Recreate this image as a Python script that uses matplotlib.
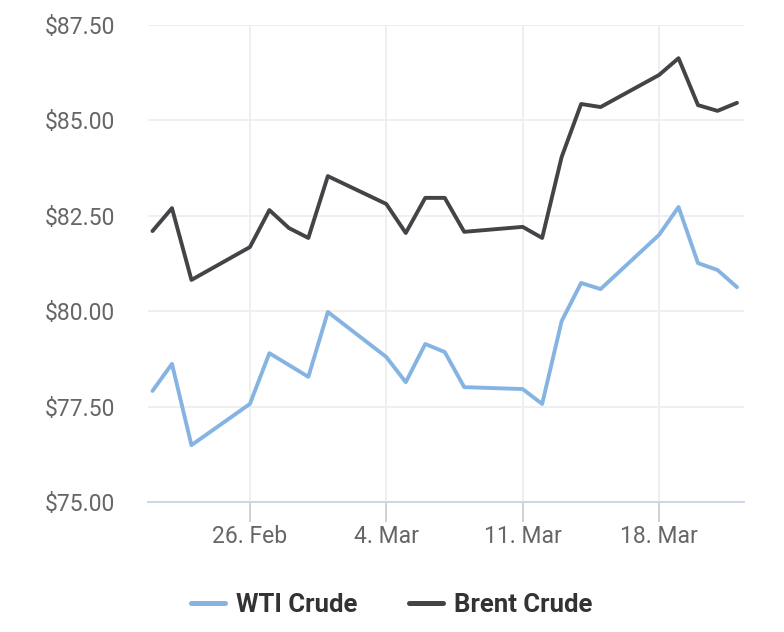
import matplotlib
matplotlib.use("Agg")
import matplotlib.pyplot as plt
import matplotlib.dates as mdates
import pandas as pd

dates = ["2024-02-21", "2024-02-22", "2024-02-23", "2024-02-26", "2024-02-27",
         "2024-02-28", "2024-02-29", "2024-03-01", "2024-03-04", "2024-03-05",
         "2024-03-06", "2024-03-07", "2024-03-08", "2024-03-11", "2024-03-12",
         "2024-03-13", "2024-03-14", "2024-03-15", "2024-03-18", "2024-03-19",
         "2024-03-20", "2024-03-21", "2024-03-22"]
wti = [77.91, 78.62, 76.49, 77.57, 78.90, 78.59, 78.28, 79.98, 78.80, 78.14,
       79.14, 78.93, 78.01, 77.96, 77.57, 79.74, 80.74, 80.58, 82.00, 82.73,
       81.26, 81.08, 80.63]
brent = [82.10, 82.70, 80.82, 81.68, 82.65, 82.18, 81.92, 83.54, 82.81, 82.05,
         82.97, 82.97, 82.08, 82.21, 81.92, 84.04, 85.43, 85.35, 86.19, 86.63,
         85.40, 85.25, 85.46]
xticks = ["2024-02-26", "2024-03-04", "2024-03-11", "2024-03-18"]
xticklabels = ["26. Feb", "4. Mar", "11. Mar", "18. Mar"]
yticks = [75.0, 77.5, 80.0, 82.5, 85.0, 87.5]

plt.rcParams['font.family'] = ['Roboto', 'DejaVu Sans']

x = pd.to_datetime(dates)
fig = plt.figure(figsize=(7.84, 6.32), dpi=100)
ax = fig.add_axes([148 / 784, 1 - 502 / 632, 596 / 784, 477 / 632])

ax.plot(x, wti, color='#85b4e3', lw=2.8, label='WTI Crude', solid_joinstyle='round', solid_capstyle='round')
ax.plot(x, brent, color='#434348', lw=2.8, label='Brent Crude', solid_joinstyle='round', solid_capstyle='round')

x0 = mdates.date2num(pd.Timestamp("2024-02-26"))
ax.set_xlim(x0 - 5.23, x0 + 21 + 4.36)
ax.set_ylim(75, 87.5)

ax.set_xticks(pd.to_datetime(xticks))
ax.set_xticklabels(xticklabels)
ax.set_yticks(yticks)
ax.set_yticklabels([f"${v:.2f}" for v in yticks])

ax.grid(True, color='#eeeeee', lw=1.3)
ax.set_axisbelow(True)
for s in ['top', 'right', 'left']:
    ax.spines[s].set_visible(False)
ax.spines['bottom'].set_color('#ccd6eb')
ax.spines['bottom'].set_linewidth(1.4)
ax.tick_params(axis='x', length=14.5, width=1.2, color='#c8c8c8', pad=2,
               labelsize=16.5, labelcolor='#666666')
ax.tick_params(axis='y', length=0, pad=24, labelsize=16.5, labelcolor='#666666')

leg = fig.legend(loc='center', bbox_to_anchor=(392 / 784, 1 - 605 / 632), ncol=2,
                 frameon=False, handlelength=1.3, columnspacing=2.0, handletextpad=0.45,
                 prop={'weight': 'bold', 'size': 18.5})
for t in leg.get_texts():
    t.set_color('#333333')
for h in leg.legend_handles:
    h.set_linewidth(3.6)

fig.savefig('out.png', dpi=100)
